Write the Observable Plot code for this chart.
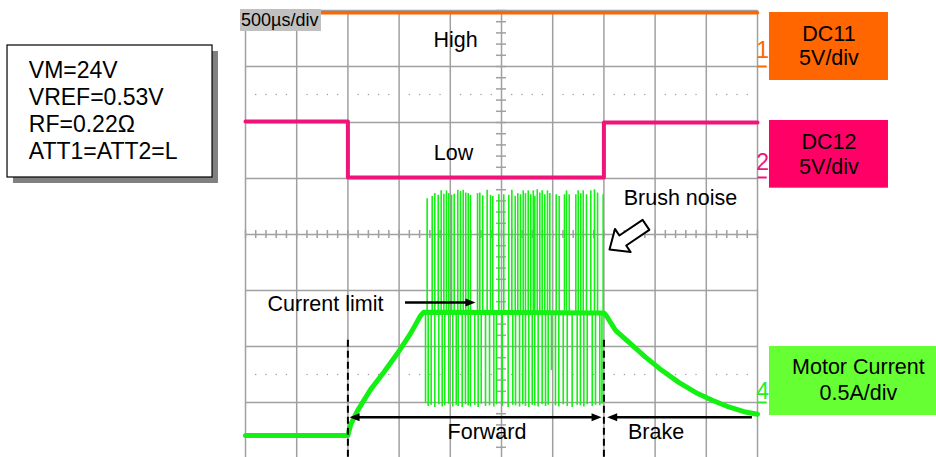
<!DOCTYPE html>
<html><head><meta charset="utf-8">
<script src="https://cdn.jsdelivr.net/npm/d3@7"></script>
<script src="https://cdn.jsdelivr.net/npm/@observablehq/plot@0.6"></script>
<style>html,body{margin:0;padding:0;background:#fff;}#chart{width:936px;height:457px;overflow:hidden}</style>
</head><body><div id="chart"></div>
<script>
// time in ms (0.5 ms/div), level in divisions (-4..4)
const gridTimes = d3.range(0, 5.0001, 0.5);
const gridDivs = d3.range(-4, 4.0001, 1);
const minorTimes = d3.range(0, 5.0001, 0.1);
const minorDivs = d3.range(-4, 4.0001, 0.2);
const dottedDivs = [2.5, -2.5];

// DC11 (orange)
const ch1T = [0, 5];
const ch1V = [3.96, 3.96];
// DC12 (pink)
const ch2T = [0, 1.0, 1.0, 3.5, 3.5, 5];
const ch2V = [2.02, 2.02, 1.02, 1.02, 2.0, 2.0];
// Motor current (green)
const motorT = [0, 1.0, 1.005, 1.03, 1.096, 1.221, 1.351, 1.481, 1.611, 1.709, 1.741, 3.5, 3.52, 3.613, 3.743, 3.906, 4.069, 4.231, 4.395, 4.558, 4.72, 4.883, 5.0];
const motorV = [-3.59, -3.59, -3.55, -3.38, -3.14, -2.77, -2.46, -2.13, -1.77, -1.45, -1.39, -1.40, -1.44, -1.71, -1.92, -2.19, -2.43, -2.64, -2.82, -2.96, -3.08, -3.17, -3.21];
const limitLevel = -1.40;
// brush-noise spikes
const upT = [1.774,1.823,1.849,1.882,1.911,1.937,1.963,1.985,2.012,2.038,2.073,2.100,2.126,2.151,2.175,2.197,2.266,2.288,2.317,2.360,2.393,2.415,2.474,2.522,2.571,2.601,2.634,2.659,2.686,2.712,2.734,2.761,2.786,2.810,2.825,2.849,2.874,2.897,2.923,2.949,2.972,3.034,3.063,3.115,3.135,3.161,3.226,3.249,3.274,3.298,3.330,3.372,3.408,3.438,3.493];
const upTop = [0.64,0.68,0.73,0.70,0.78,0.72,0.78,0.73,0.70,0.72,0.79,0.77,0.79,0.74,0.73,0.70,0.73,0.74,0.69,0.79,0.70,0.68,0.71,0.71,0.70,0.79,0.68,0.73,0.71,0.78,0.73,0.78,0.71,0.78,0.68,0.80,0.74,0.78,0.71,0.78,0.73,0.71,0.68,0.71,0.78,0.71,0.71,0.78,0.73,0.78,0.71,0.78,0.80,0.74,0.71];
const downT = [1.758,1.784,1.813,1.849,1.888,1.921,1.946,1.985,2.024,2.058,2.077,2.116,2.148,2.175,2.197,2.239,2.272,2.302,2.344,2.383,2.425,2.451,2.507,2.565,2.610,2.637,2.676,2.708,2.734,2.767,2.800,2.825,2.858,2.897,2.930,2.956,2.988,3.027,3.060,3.103,3.142,3.190,3.239,3.271,3.304,3.337,3.386,3.418,3.460,3.481];
const downBottom = [-3.02,-3.07,-3.05,-3.09,-3.04,-3.08,-3.06,-3.03,-3.08,-3.05,-3.07,-3.09,-3.04,-3.06,-3.08,-3.05,-3.09,-3.03,-3.07,-3.06,-3.08,-3.04,-3.07,-3.09,-3.05,-3.06,-3.08,-3.04,-3.07,-3.09,-3.05,-3.06,-3.08,-3.04,-3.07,-3.05,-2.43,-3.06,-3.08,-3.04,-3.07,-3.09,-3.05,-3.06,-3.08,-3.04,-3.07,-3.05,-3.06,-3.03];

// texts
const timebaseLabel = "500µs/div";
const infoLines = ["VM=24V", "VREF=0.53V", "RF=0.22Ω", "ATT1=ATT2=L"];
const infoV = [2.929, 2.446, 1.964, 1.482];
const noteLabels = ["High", "Low", "Current limit", "Brush noise", "Forward", "Brake"];
const noteT = [2.051, 2.031, 0.781, 4.248, 2.358, 4.009];
const noteV = [3.464, 1.446, -1.25, 0.643, -3.536, -3.536];
const chLabels = [["DC11", "5V/div"], ["DC12", "5V/div"], ["Motor Current", "0.5A/div"]];
const chColors = ["#ff6600", "#ff0066", "#66ff33"];
const chBoxT = [[5.117, 6.279], [5.117, 6.279], [5.117, 6.75]];
const chBoxV = [[3.964, 2.75], [2.036, 0.827], [-2.0, -3.232]];
const chTextT = [5.698, 5.698, 5.985];
const chTextV = [[3.571, 3.152], [1.648, 1.202], [-2.375, -2.83]];
const markerLabels = ["1", "2", "4"];
const markerColors = ["#ff6600", "#f0147a", "#22ee22"];
const markerV = [3.286, 1.277, -2.813];
const markerGround = [3.0, 1.018, -3.0];

// annotation geometry (data units)
const dashedT = [1.0, 3.5];
const arrowShafts = [
  {t1: 1.5625, t2: 2.18, v: -1.214},
  {t1: 1.05, t2: 3.44, v: -3.262},
  {t1: 3.57, t2: 4.95, v: -3.262}
];
const headsRight = [{t: 2.246, v: -1.214}, {t: 3.477, v: -3.262}];
const headsLeft = [{t: 1.016, v: -3.262}, {t: 3.532, v: -3.262}];
const hollowArrowT = [3.555, 3.608, 3.651, 3.878, 3.944, 3.718, 3.761, 3.555];
const hollowArrowV = [-0.268, 0.100, -0.018, 0.261, 0.082, -0.196, -0.314, -0.268];
const infoBox = {t1: -2.324, t2: -0.322, v1: 3.375, v2: 1.018};
const infoShadow = {t1: -2.266, t2: -0.264, v1: 3.268, v2: 0.911};
const timebaseBox = {t1: -0.049, t2: 0.742, v1: 4.018, v2: 3.625};

const zipTV = (T, V) => T.map((t, i) => ({t, v: V[i]}));
const ch1 = zipTV(ch1T, ch1V);
const ch2 = zipTV(ch2T, ch2V);
const motor = zipTV(motorT, motorV);
const ups = zipTV(upT, upTop);
const downs = zipTV(downT, downBottom);
const dots = dottedDivs.flatMap(v => minorTimes.filter(t => Math.abs(t / 0.5 - Math.round(t / 0.5)) > 0.01).map(t => ({t, v})));
const hollow = zipTV(hollowArrowT, hollowArrowV);

const headR = {draw(ctx, size) { const r = Math.sqrt(size / Math.PI); ctx.moveTo(0, 0); ctx.lineTo(-2 * r, -0.8 * r); ctx.lineTo(-2 * r, 0.8 * r); ctx.closePath(); }};
const headL = {draw(ctx, size) { const r = Math.sqrt(size / Math.PI); ctx.moveTo(0, 0); ctx.lineTo(2 * r, -0.8 * r); ctx.lineTo(2 * r, 0.8 * r); ctx.closePath(); }};

const gridColor = "#a0a0a0";
const green = "#14f014";
const noteFont = 21.5;
const infoFont = 23;
const chFont = 21.5;

const chBoxes = chLabels.map((l, i) => ({t1: chBoxT[i][0], t2: chBoxT[i][1], v1: chBoxV[i][0], v2: chBoxV[i][1], fill: chColors[i]}));
const chTexts = chLabels.flatMap((l, i) => l.map((s, j) => ({s, t: chTextT[i], v: chTextV[i][j]})));
const markers = markerLabels.map((s, i) => ({s, v: markerV[i], g: markerGround[i], c: markerColors[i]}));

const plot = Plot.plot({
  width: 936, height: 457,
  marginLeft: 0, marginRight: 0, marginTop: 0, marginBottom: 0,
  x: {domain: [0, 5], range: [245, 757], axis: null},
  y: {domain: [-4, 4], range: [458, 10], axis: null},
  style: {fontFamily: "'Liberation Sans', Arial, sans-serif", background: "white", color: "black"},
  marks: [
    // grid
    Plot.ruleX(gridTimes, {x: d => d, y1: -4, y2: 4, stroke: gridColor, strokeWidth: 1.5}),
    Plot.ruleY(gridDivs, {y: d => d, x1: 0, x2: 5, stroke: gridColor, strokeWidth: 1.5}),
    Plot.ruleY(minorDivs, {y: d => d, x1: 2.5, x2: 2.5, insetLeft: -5, insetRight: -5, stroke: gridColor, strokeWidth: 1.5}),
    Plot.ruleX(minorTimes, {x: d => d, y1: 0, y2: 0, insetTop: -4, insetBottom: -4, stroke: gridColor, strokeWidth: 1.5}),
    Plot.dot(dots, {x: "t", y: "v", r: 0.7, fill: "#999", stroke: null}),
    // traces
    Plot.line(ch1, {x: "t", y: "v", stroke: "#ff6600", strokeWidth: 3.5}),
    Plot.line(ch2, {x: "t", y: "v", stroke: "#f0147a", strokeWidth: 4}),
    Plot.ruleX(ups, {x: "t", y1: limitLevel, y2: "v", stroke: green, strokeWidth: 1.6}),
    Plot.ruleX(downs, {x: "t", y1: limitLevel, y2: "v", stroke: green, strokeWidth: 1.6}),
    Plot.line(motor, {x: "t", y: "v", stroke: green, strokeWidth: 5}),
    // timebase label
    Plot.rect([timebaseBox], {x1: "t1", x2: "t2", y1: "v1", y2: "v2", fill: "#c0c0c0"}),
    Plot.text([timebaseLabel], {x: timebaseBox.t1 + 0.005, y: (timebaseBox.v1 + timebaseBox.v2) / 2, text: d => d, textAnchor: "start", fontSize: 18, fill: "black"}),
    // annotations
    Plot.ruleX(dashedT, {x: d => d, y1: -1.89, y2: -4, stroke: "black", strokeWidth: 2, strokeDasharray: "7,4"}),
    Plot.ruleY(arrowShafts, {y: "v", x1: "t1", x2: "t2", stroke: "black", strokeWidth: 2.5}),
    Plot.dot(headsRight, {x: "t", y: "v", symbol: headR, r: 5, fill: "black", stroke: null}),
    Plot.dot(headsLeft, {x: "t", y: "v", symbol: headL, r: 5, fill: "black", stroke: null}),
    Plot.line(hollow, {x: "t", y: "v", stroke: "black", strokeWidth: 2, fill: "white", curve: "linear-closed"}),
    Plot.text(noteLabels, {x: (d, i) => noteT[i], y: (d, i) => noteV[i], text: d => d, fontSize: noteFont, fill: "black"}),
    // info box
    Plot.rect([infoShadow], {x1: "t1", x2: "t2", y1: "v1", y2: "v2", fill: "#808080"}),
    Plot.rect([infoBox], {x1: "t1", x2: "t2", y1: "v1", y2: "v2", fill: "white", stroke: "black", strokeWidth: 1.2}),
    Plot.text(infoLines, {x: -2.116, y: (d, i) => infoV[i], text: d => d, textAnchor: "start", fontSize: infoFont, fill: "black"}),
    // channel labels
    Plot.rect(chBoxes, {x1: "t1", x2: "t2", y1: "v1", y2: "v2", fill: d => d.fill}),
    Plot.text(chTexts, {x: "t", y: "v", text: "s", fontSize: chFont, fill: "black"}),
    Plot.text(markers, {x: 5.05, y: "v", text: "s", fontSize: 23, fill: d => d.c}),
    Plot.ruleY(markers, {y: "g", x1: 5.005, x2: 5.095, stroke: d => d.c, strokeWidth: 2})
  ]
});
document.getElementById("chart").appendChild(plot);
</script></body></html>
